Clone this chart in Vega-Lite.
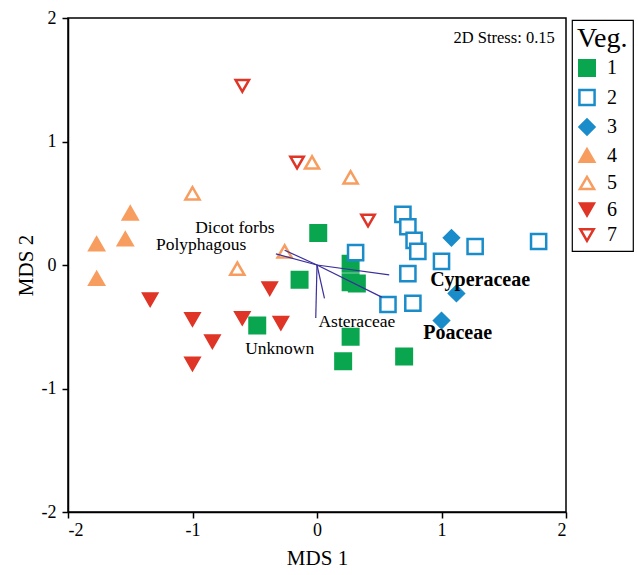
{
  "$schema": "https://vega.github.io/schema/vega-lite/v6.json",
  "autosize": "none",
  "width": 498,
  "height": 494,
  "padding": {"left": 68, "top": 18, "right": 72, "bottom": 63},
  "background": "white",
  "config": {
    "font": "Liberation Serif",
    "view": {"stroke": "black", "strokeWidth": 1.5},
    "axis": {
      "domainColor": "black", "domainWidth": 1.5, "tickColor": "black", "tickWidth": 1.5,
      "tickSize": 6, "labelFont": "Liberation Serif", "labelFontSize": 18, "labelColor": "black",
      "titleFont": "Liberation Serif", "titleFontSize": 21, "titleFontWeight": "normal", "titleColor": "black",
      "grid": false
    },
    "legend": {
      "strokeColor": "black", "strokeWidth": 1.2, "padding": 5,
      "titleFont": "Liberation Serif", "titleFontSize": 28, "titleFontWeight": "normal", "titleColor": "black",
      "titlePadding": 5,
      "labelFont": "Liberation Serif", "labelFontSize": 20, "labelColor": "black",
      "rowPadding": 3.5, "symbolStrokeWidth": 2.5, "labelOffset": 10
    }
  },
  "datasets": {
    "sites": [
      {"veg": "1", "mds1": 0.01, "mds2": 0.26},
      {"veg": "1", "mds1": -0.14, "mds2": -0.12},
      {"veg": "1", "mds1": 0.27, "mds2": 0.01},
      {"veg": "1", "mds1": 0.27, "mds2": -0.14},
      {"veg": "1", "mds1": 0.32, "mds2": -0.15},
      {"veg": "1", "mds1": -0.48, "mds2": -0.49},
      {"veg": "1", "mds1": 0.27, "mds2": -0.58},
      {"veg": "1", "mds1": 0.21, "mds2": -0.78},
      {"veg": "1", "mds1": 0.70, "mds2": -0.74},
      {"veg": "2", "mds1": 0.69, "mds2": 0.41},
      {"veg": "2", "mds1": 0.73, "mds2": 0.31},
      {"veg": "2", "mds1": 0.78, "mds2": 0.20},
      {"veg": "2", "mds1": 0.81, "mds2": 0.11},
      {"veg": "2", "mds1": 0.31, "mds2": 0.10},
      {"veg": "2", "mds1": 1.00, "mds2": 0.03},
      {"veg": "2", "mds1": 1.27, "mds2": 0.15},
      {"veg": "2", "mds1": 1.78, "mds2": 0.19},
      {"veg": "2", "mds1": 0.73, "mds2": -0.07},
      {"veg": "2", "mds1": 0.57, "mds2": -0.32},
      {"veg": "2", "mds1": 0.77, "mds2": -0.31},
      {"veg": "3", "mds1": 1.08, "mds2": 0.22},
      {"veg": "3", "mds1": 1.12, "mds2": -0.23},
      {"veg": "3", "mds1": 1.00, "mds2": -0.45},
      {"veg": "4", "mds1": -1.50, "mds2": 0.42},
      {"veg": "4", "mds1": -1.54, "mds2": 0.21},
      {"veg": "4", "mds1": -1.77, "mds2": 0.17},
      {"veg": "4", "mds1": -1.77, "mds2": -0.11},
      {"veg": "5", "mds1": -1.00, "mds2": 0.58},
      {"veg": "5", "mds1": -0.04, "mds2": 0.83},
      {"veg": "5", "mds1": 0.27, "mds2": 0.71},
      {"veg": "5", "mds1": -0.26, "mds2": 0.11},
      {"veg": "5", "mds1": -0.64, "mds2": -0.03},
      {"veg": "6", "mds1": -0.38, "mds2": -0.19},
      {"veg": "6", "mds1": -1.34, "mds2": -0.28},
      {"veg": "6", "mds1": -1.00, "mds2": -0.44},
      {"veg": "6", "mds1": -0.84, "mds2": -0.62},
      {"veg": "6", "mds1": -1.00, "mds2": -0.80},
      {"veg": "6", "mds1": -0.60, "mds2": -0.43},
      {"veg": "6", "mds1": -0.29, "mds2": -0.47},
      {"veg": "7", "mds1": -0.60, "mds2": 1.45},
      {"veg": "7", "mds1": -0.16, "mds2": 0.83},
      {"veg": "7", "mds1": 0.41, "mds2": 0.36}
    ],
    "vectors": [
      {"name": "Dicot forbs", "vx": -0.26, "vy": 0.12, "lx": -0.66, "ly": 0.30},
      {"name": "Polyphagous", "vx": -0.33, "vy": 0.09, "lx": -0.93, "ly": 0.16},
      {"name": "Cyperaceae", "vx": 0.58, "vy": -0.08, "lx": 1.31, "ly": -0.12},
      {"name": "Poaceae", "vx": 0.52, "vy": -0.26, "lx": 1.13, "ly": -0.55},
      {"name": "Asteraceae", "vx": 0.06, "vy": -0.27, "lx": 0.32, "ly": -0.46},
      {"name": "Unknown", "vx": -0.01, "vy": -0.43, "lx": -0.30, "ly": -0.68}
    ],
    "note": [
      {"text": "2D Stress: 0.15", "x": 1.91, "y": 1.84}
    ]
  },
  "layer": [
    {
      "data": {"name": "sites"},
      "mark": {"type": "point", "strokeWidth": 2.5, "opacity": 1},
      "encoding": {
        "x": {
          "field": "mds1", "type": "quantitative",
          "scale": {"domain": [-2, 2], "nice": false, "zero": false},
          "axis": {"values": [-2, -1, 0, 1, 2], "title": "MDS 1", "titlePadding": 8, "labelPadding": 3,
                   "labelExpr": "datum.value < 0 ? '-' + abs(datum.value) : '' + datum.value"}
        },
        "y": {
          "field": "mds2", "type": "quantitative",
          "scale": {"domain": [-2, 2], "nice": false, "zero": false},
          "axis": {"values": [-2, -1, 0, 1, 2], "title": "MDS 2", "titlePadding": 5, "labelPadding": 6,
                   "labelExpr": "datum.value < 0 ? '-' + abs(datum.value) : '' + datum.value"}
        },
        "shape": {
          "field": "veg", "type": "nominal", "title": "Veg.",
          "scale": {"domain": ["1", "2", "3", "4", "5", "6", "7"],
                    "range": ["square", "square", "diamond", "triangle-up", "triangle-up", "triangle-down", "triangle-down"]},
          "legend": {"orient": "none", "legendX": 504, "legendY": 2}
        },
        "fill": {
          "field": "veg", "type": "nominal", "title": "Veg.",
          "scale": {"domain": ["1", "2", "3", "4", "5", "6", "7"],
                    "range": ["#0aa64f", "white", "#1a8cca", "#f79d5f", "white", "#df3527", "white"]},
          "legend": {"orient": "none", "legendX": 504, "legendY": 2}
        },
        "stroke": {
          "field": "veg", "type": "nominal", "title": "Veg.",
          "scale": {"domain": ["1", "2", "3", "4", "5", "6", "7"],
                    "range": ["#0aa64f", "#1a8cca", "#1a8cca", "#f79d5f", "#f79d5f", "#df3527", "#df3527"]},
          "legend": {"orient": "none", "legendX": 504, "legendY": 2}
        },
        "size": {
          "field": "veg", "type": "nominal", "title": "Veg.",
          "scale": {"domain": ["1", "2", "3", "4", "5", "6", "7"],
                    "range": [240, 180, 130, 320, 230, 320, 230]},
          "legend": {"orient": "none", "legendX": 504, "legendY": 2}
        }
      }
    },
    {
      "data": {"name": "vectors"},
      "mark": {"type": "rule", "color": "#3a2f9c", "strokeWidth": 1.2},
      "encoding": {
        "x": {"field": "vx", "type": "quantitative"},
        "y": {"field": "vy", "type": "quantitative"},
        "x2": {"datum": 0},
        "y2": {"datum": 0}
      }
    },
    {
      "data": {"name": "vectors"},
      "transform": [{"filter": "datum.name != 'Cyperaceae' && datum.name != 'Poaceae'"}],
      "mark": {"type": "text", "font": "Liberation Serif", "fontSize": 17.5, "color": "black"},
      "encoding": {
        "x": {"field": "lx", "type": "quantitative"},
        "y": {"field": "ly", "type": "quantitative"},
        "text": {"field": "name"}
      }
    },
    {
      "data": {"name": "vectors"},
      "transform": [{"filter": "datum.name == 'Cyperaceae' || datum.name == 'Poaceae'"}],
      "mark": {"type": "text", "font": "Liberation Serif", "fontSize": 20, "fontWeight": "bold", "color": "black"},
      "encoding": {
        "x": {"field": "lx", "type": "quantitative"},
        "y": {"field": "ly", "type": "quantitative"},
        "text": {"field": "name"}
      }
    },
    {
      "data": {"name": "note"},
      "mark": {"type": "text", "font": "Liberation Serif", "fontSize": 16.5, "color": "black", "align": "right"},
      "encoding": {
        "x": {"field": "x", "type": "quantitative"},
        "y": {"field": "y", "type": "quantitative"},
        "text": {"field": "text"}
      }
    }
  ]
}
